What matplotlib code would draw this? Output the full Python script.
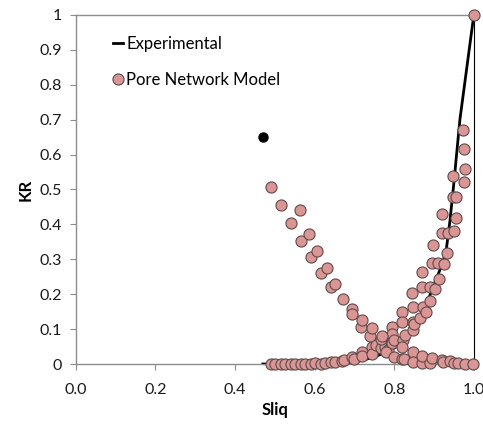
import numpy as np
import matplotlib.pyplot as plt

plt.rcParams['font.family'] = ['Lato', 'DejaVu Sans']

# Experimental relative permeability (liquid)
sliq_exp = [0.47, 0.60, 0.70, 0.75, 0.79, 0.82, 0.847, 0.869, 0.885, 0.898, 0.915, 0.93, 0.94, 0.95, 0.965, 1.0]
kr_exp = [0.0, 0.0, 0.005, 0.02, 0.04, 0.059, 0.097, 0.136, 0.183, 0.222, 0.27, 0.32, 0.41, 0.52, 0.70, 1.0]

# Experimental gas end point
sliq_exp_pt = [0.47]
kr_exp_pt = [0.65]

# Pore network model - liquid branch
sliq_pnm_l = [0.490, 0.500, 0.515, 0.525, 0.540, 0.550, 0.565, 0.575, 0.590, 0.600,
              0.616, 0.625, 0.642, 0.650, 0.668, 0.675, 0.693, 0.700, 0.718, 0.720,
              0.743, 0.745, 0.755, 0.768, 0.772, 0.776, 0.785, 0.793, 0.795, 0.795,
              0.795, 0.800, 0.820, 0.820, 0.822, 0.820, 0.827, 0.845, 0.846, 0.847,
              0.847, 0.850, 0.866, 0.870, 0.871, 0.873, 0.879, 0.889, 0.889, 0.895,
              0.898, 0.902, 0.910, 0.913, 0.921, 0.921, 0.925, 0.933, 0.934, 0.948,
              0.948, 0.950, 0.955, 0.956, 0.973, 0.975, 0.975, 0.977, 1.000]
kr_pnm_l = [0.000, 0.001, 0.000, 0.001, 0.000, 0.001, 0.000, 0.001, 0.000, 0.002,
            0.001, 0.004, 0.005, 0.007, 0.008, 0.011, 0.019, 0.014, 0.035, 0.022,
            0.050, 0.030, 0.054, 0.045, 0.076, 0.048, 0.040, 0.064, 0.107, 0.085,
            0.061, 0.070, 0.148, 0.121, 0.069, 0.050, 0.083, 0.202, 0.164, 0.121,
            0.097, 0.115, 0.133, 0.222, 0.265, 0.164, 0.150, 0.222, 0.181, 0.288,
            0.341, 0.214, 0.288, 0.244, 0.431, 0.374, 0.287, 0.319, 0.374, 0.539,
            0.477, 0.382, 0.419, 0.477, 0.670, 0.615, 0.520, 0.558, 1.000]

# Pore network model - gas branch
sliq_pnm_g = [0.490, 0.515, 0.540, 0.563, 0.565, 0.585, 0.590, 0.607, 0.616, 0.630,
              0.642, 0.651, 0.672, 0.694, 0.695, 0.716, 0.719, 0.739, 0.744, 0.768,
              0.770, 0.780, 0.800, 0.820, 0.825, 0.846, 0.847, 0.869, 0.871, 0.889,
              0.894, 0.919, 0.923, 0.940, 0.950, 0.960, 0.977, 0.998]
kr_pnm_g = [0.507, 0.456, 0.405, 0.440, 0.353, 0.373, 0.307, 0.324, 0.262, 0.275,
            0.222, 0.228, 0.186, 0.157, 0.142, 0.107, 0.126, 0.080, 0.102, 0.071,
            0.080, 0.035, 0.021, 0.013, 0.014, 0.035, 0.007, 0.004, 0.023, 0.002,
            0.016, 0.011, 0.005, 0.009, 0.004, 0.002, 0.000, 0.000]

sliq_pnm = sliq_pnm_l + sliq_pnm_g
kr_pnm = kr_pnm_l + kr_pnm_g

fig = plt.figure(figsize=(4.83, 4.26), dpi=100)
ax = fig.add_axes([0.157, 0.1455, 0.824, 0.8195])

pink = '#d99694'
ax.plot(sliq_exp, kr_exp, color='black', lw=2, label='Experimental', zorder=3)
ax.plot(sliq_pnm, kr_pnm, 'o', ls='none', ms=8, mfc=pink, mec='#5e4a4a',
        mew=0.8, label='Pore Network Model', zorder=4, clip_on=False)
ax.plot(sliq_exp_pt, kr_exp_pt, 'o', color='black', ms=6.5, zorder=5)

ax.set_xlim(0, 1)
ax.set_ylim(0, 1)
ax.set_xticks(np.arange(0, 1.01, 0.2))
ax.set_xticklabels([f'{v:.1f}' for v in np.arange(0, 1.01, 0.2)])
ax.set_yticks(np.arange(0, 1.01, 0.1))
ax.set_yticklabels(['0'] + [f'{v:.1f}' for v in np.arange(0.1, 0.95, 0.1)] + ['1'])

for side in ['left', 'bottom', 'top']:
    ax.spines[side].set_color('#8c8c8c')
    ax.spines[side].set_linewidth(1.0)
ax.spines['right'].set_color('black')
ax.spines['right'].set_linewidth(0.8)

ax.tick_params(axis='both', direction='out', length=4, width=0.8, color='#8c8c8c',
               labelsize=11.5, labelcolor='#1a1a1a')
ax.tick_params(axis='x', pad=10)
ax.tick_params(axis='y', pad=6)

ax.set_xlabel('Sliq', fontsize=12, fontweight='bold', labelpad=3)
ax.set_ylabel('KR', fontsize=12, fontweight='bold', labelpad=4)

leg = ax.legend(loc='upper left', bbox_to_anchor=(0.093, 0.94), frameon=False,
                fontsize=12, handlelength=0.6, handletextpad=0.2,
                labelspacing=1.2, borderaxespad=0, borderpad=0)

fig.savefig('out.png', dpi=100)
